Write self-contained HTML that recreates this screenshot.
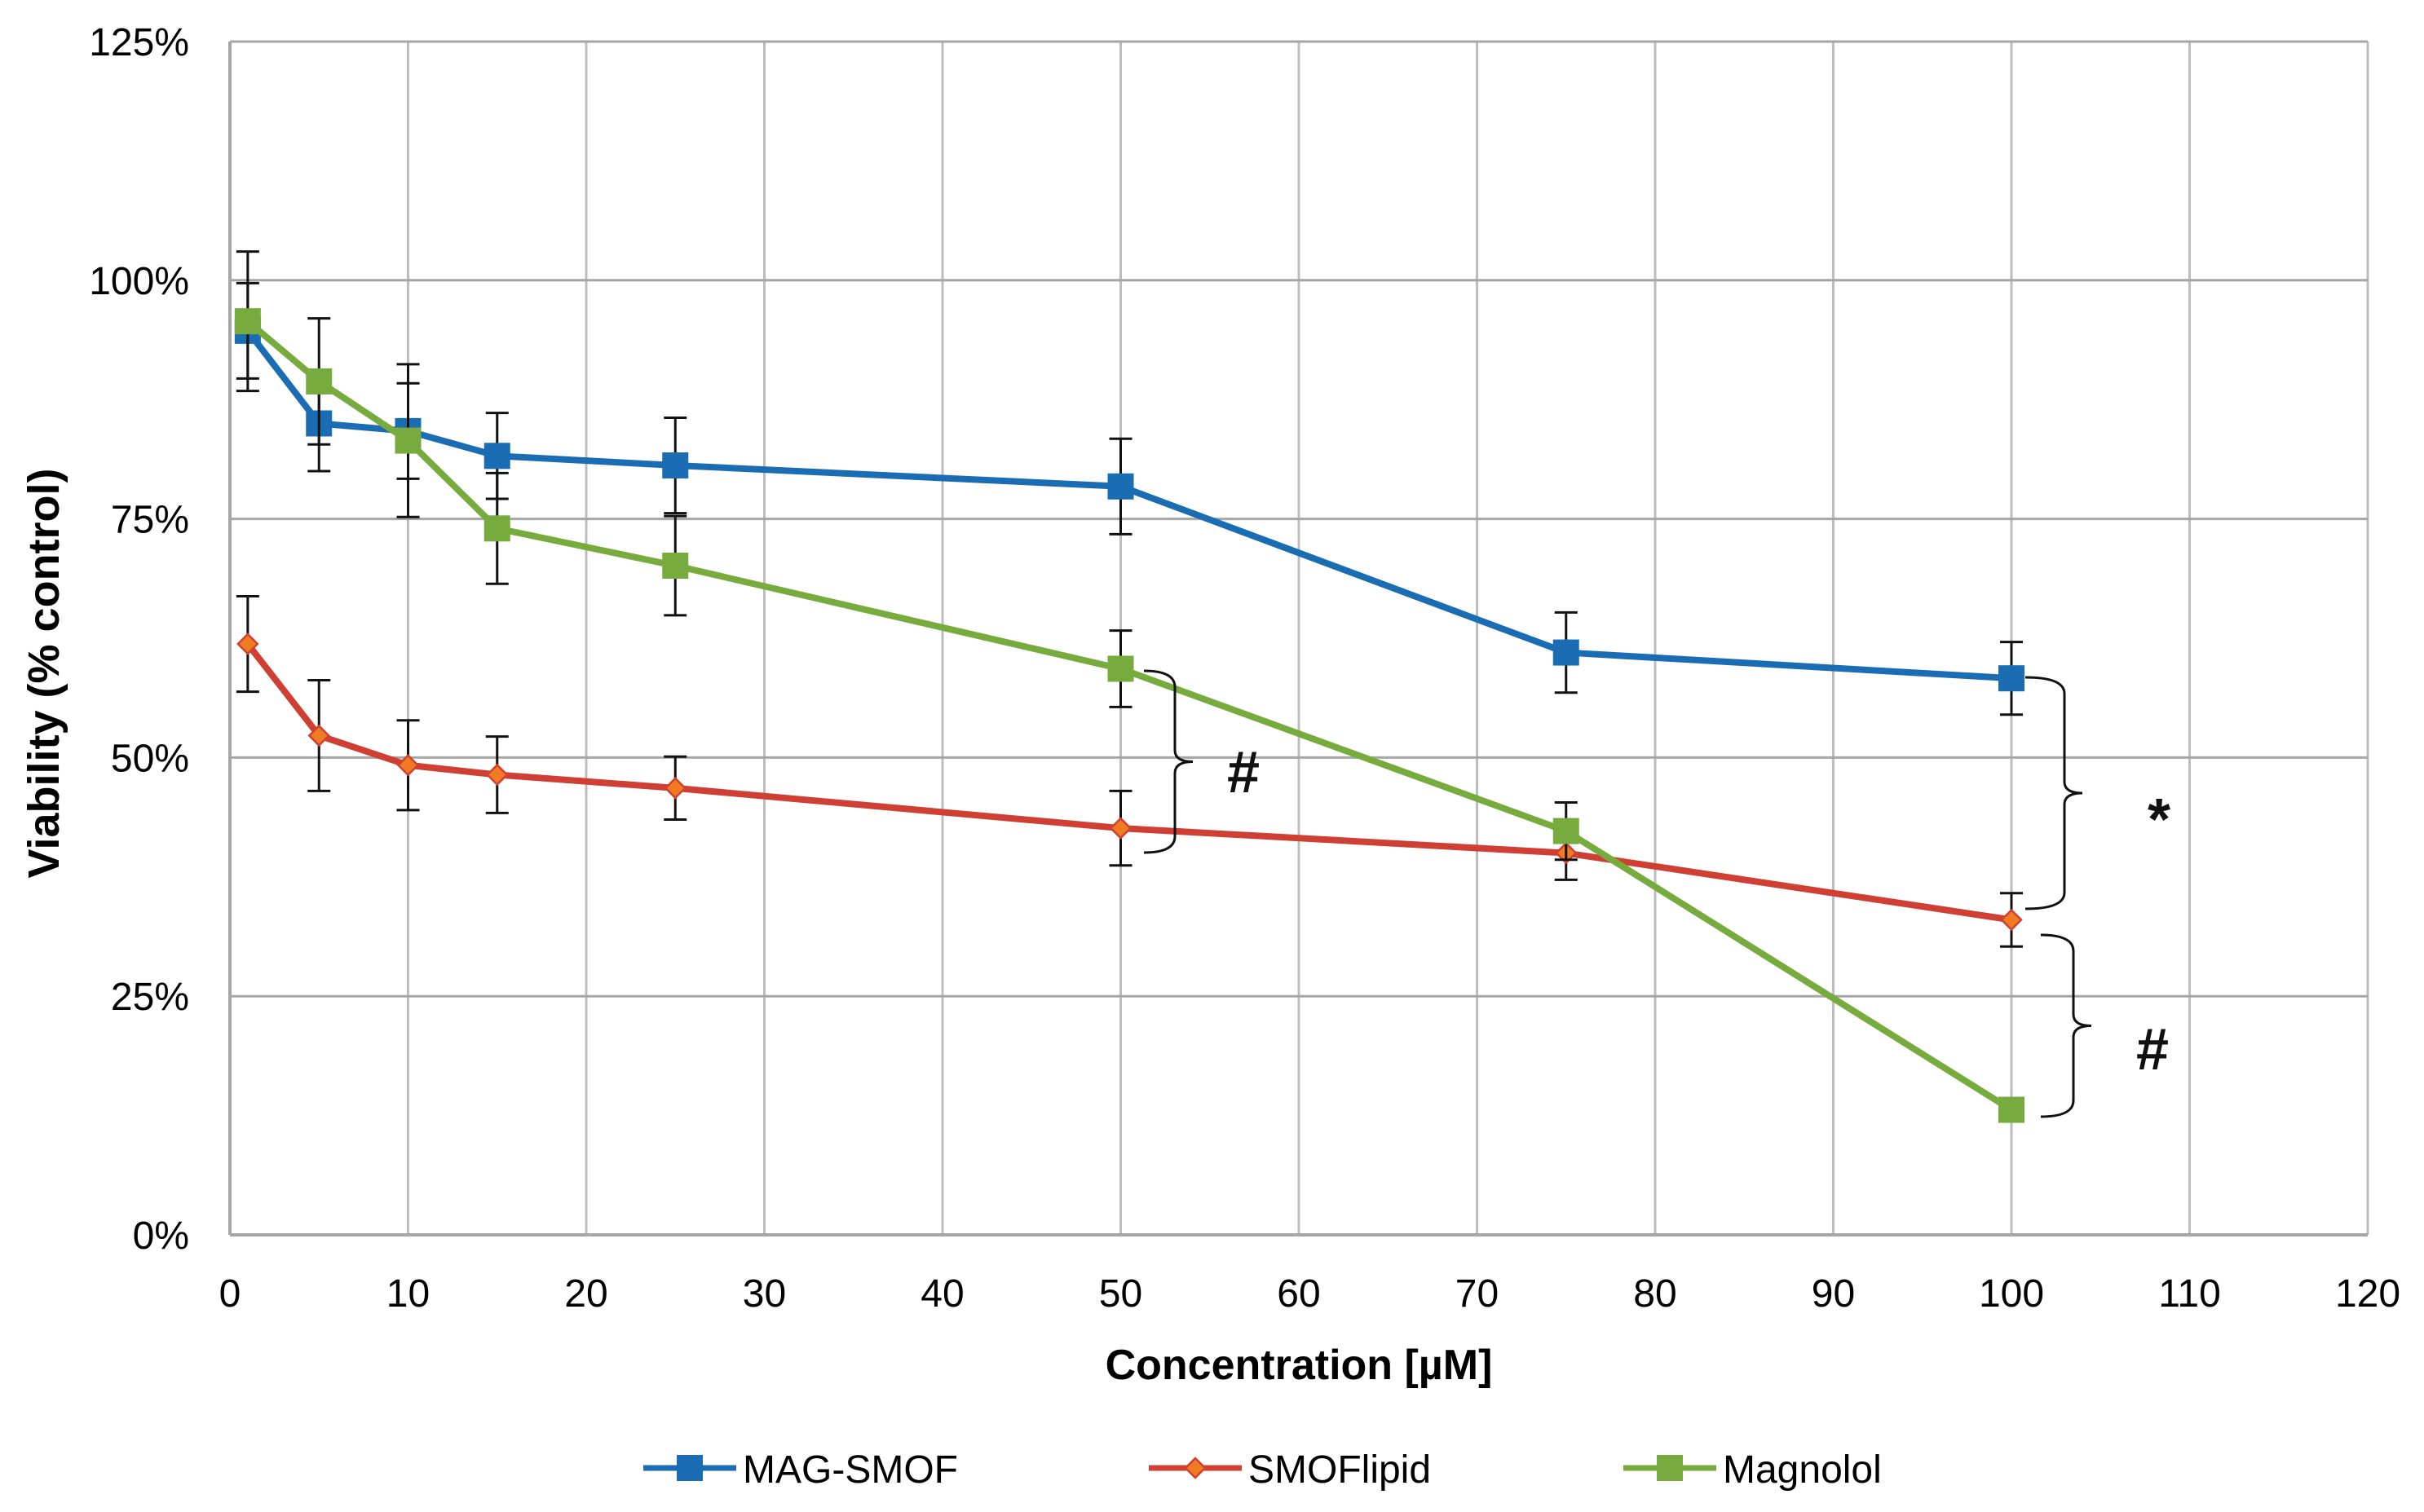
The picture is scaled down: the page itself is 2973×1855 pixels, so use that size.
<!DOCTYPE html>
<html><head><meta charset="utf-8"><style>
html,body{margin:0;padding:0;background:#fff;}
svg{display:block;font-family:"Liberation Sans",sans-serif;}
</style></head><body>
<svg id="chart" width="2973" height="1855" viewBox="0 0 2973 1855"></svg>
<script>
const xs = [1,5,10,15,25,50,75,100];
const magSmof = [94.7,85.0,84.2,81.6,80.6,78.4,61.0,58.3];
const magSmofErr = [5.0,5.0,5.0,4.5,5.0,5.0,4.2,3.8];
const smofLipid = [61.9,52.3,49.2,48.2,46.8,42.6,40.0,33.0];
const smofLipidErr = [5.0,5.8,4.7,4.0,3.3,3.9,2.8,2.8];
const magnolol = [95.7,89.4,83.2,74.0,70.1,59.3,42.3,13.1];
const magnololErr = [7.3,6.6,8.0,5.8,5.2,4.0,3.0,1.2];
const xTicks = [0,10,20,30,40,50,60,70,80,90,100,110,120];
const yTicks = [0,25,50,75,100,125];
const yTickLabels = ["0%","25%","50%","75%","100%","125%"];

const L=282,R=2904,T=51,B=1515;
const X=v=>L+(v-0)/(120-0)*(R-L);
const Y=v=>B-(v-0)/(125-0)*(B-T);
const svg=document.getElementById('chart');
const NS='http://www.w3.org/2000/svg';
function mk(tag,attrs,parent){const e=document.createElementNS(NS,tag);for(const k in attrs)e.setAttribute(k,attrs[k]);(parent||svg).appendChild(e);return e;}

const grid=mk('g',{});


xTicks.forEach(t=>{const l=mk('line',{x1:X(t),x2:X(t),y1:T,y2:B,stroke:'#bdbdbd','stroke-width':3},grid);

});
yTicks.forEach(t=>{const l=mk('line',{x1:L,x2:R,y1:Y(t),y2:Y(t),stroke:'#a6a6a6','stroke-width':3},grid);

});
const ax=mk('line',{x1:L,x2:R,y1:B,y2:B,stroke:'#a6a6a6','stroke-width':4});


const ay=mk('line',{x1:L,x2:L,y1:T,y2:B,stroke:'#a6a6a6','stroke-width':4});



xTicks.forEach(t=>{const e=mk('text',{x:X(t),y:1603,'font-size':48,'text-anchor':'middle',fill:'#000'});e.textContent=t;

});
yTicks.forEach((t,i)=>{const e=mk('text',{x:232,y:Y(t)+17,'font-size':48,'text-anchor':'end',fill:'#000'});e.textContent=yTickLabels[i];

});

const xt=mk('text',{x:1593,y:1692,'font-size':52,'font-weight':'bold','text-anchor':'middle'});xt.textContent='Concentration [µM]';


const yt=mk('text',{x:0,y:0,'font-size':54,'font-weight':'bold','text-anchor':'middle',transform:'translate(72,826) rotate(-90)'});yt.textContent='Viability  (% control)';



const series=[
 {name:'mag-smof',vals:magSmof,err:magSmofErr,color:'#1b6db3',marker:'square'},
 {name:'smoflipid',vals:smofLipid,err:smofLipidErr,color:'#cf3f33',marker:'diamond'},
 {name:'magnolol',vals:magnolol,err:magnololErr,color:'#77ab3d',marker:'square'}];

function marker(g,m,cx,cy,color){
 let e;
 if(m==='square') e=mk('rect',{x:cx-16,y:cy-16,width:32,height:32,fill:color},g);
 else e=mk('path',{d:`M${cx} ${cy-12}L${cx+12} ${cy}L${cx} ${cy+12}L${cx-12} ${cy}Z`,fill:'#f07b22',stroke:color,'stroke-width':2.5},g);
 return e;
}
series.forEach(s=>{
 const g=mk('g',{});
 
 
 s.vals.forEach((v,i)=>{
  const x=X(xs[i]),y1=Y(v+s.err[i]),y2=Y(v-s.err[i]);
  const eb=mk('path',{d:`M${x} ${y1}V${y2}M${x-14} ${y1}H${x+14}M${x-14} ${y2}H${x+14}`,stroke:'#111','stroke-width':3,fill:'none'},g);
  
  
 });
 const pl=mk('polyline',{points:s.vals.map((v,i)=>X(xs[i])+','+Y(v)).join(' '),fill:'none',stroke:s.color,'stroke-width':8,'stroke-linejoin':'round'},g);
 
 
 s.vals.forEach((v,i)=>{const m=marker(g,s.marker,X(xs[i]),Y(v),s.color);
  
  });
});

function brace(x,yTop,yBot,w){
 const ym=(yTop+yBot)/2;
 const p=mk('path',{d:`M${x} ${yTop}Q${x+w} ${yTop} ${x+w} ${yTop+20}V${ym-14}Q${x+w} ${ym} ${x+w+22} ${ym}Q${x+w} ${ym} ${x+w} ${ym+14}V${yBot-20}Q${x+w} ${yBot} ${x} ${yBot}`,fill:'none',stroke:'#111','stroke-width':3});
 
 
}
brace(1403,823,1046,38);
brace(2484,831,1115,48);
brace(2503,1147,1370,40);
[[1525,942,'#'],[2648,1000,'*'],[2640,1282,'#']].forEach(a=>{
 const t=mk('text',{x:a[0],y:a[1]+30,'font-size':72,'font-weight':'bold','text-anchor':'middle',fill:'#111'});t.textContent=a[2];
 
 
});

const leg=[[789,'MAG-SMOF',series[0]],[1409,'SMOFlipid',series[1]],[1991,'Magnolol',series[2]]];
leg.forEach(l=>{
 const g=mk('g',{});
 
 
 mk('line',{x1:l[0],x2:l[0]+114,y1:1801,y2:1801,stroke:l[2].color,'stroke-width':7},g);
 marker(g,l[2].marker,l[0]+57,1801,l[2].color);
 const t=mk('text',{x:l[0]+122,y:1819,'font-size':48,fill:'#000'},g);t.textContent=l[1];
});
</script>
</body></html>
